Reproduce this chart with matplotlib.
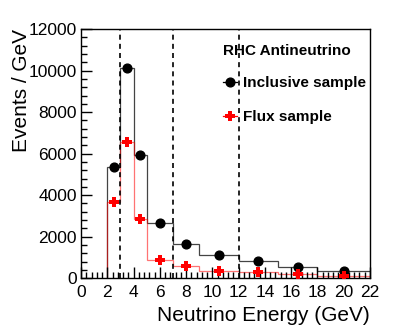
import matplotlib
matplotlib.use("Agg")
import matplotlib.pyplot as plt
from matplotlib.ticker import MultipleLocator
from matplotlib.lines import Line2D
import numpy as np

plt.rcParams['font.family'] = ['Liberation Sans', 'DejaVu Sans']

# Binning and contents (events / GeV)
bin_edges = [2, 3, 4, 5, 7, 9, 12, 15, 18, 22]
inclusive = [5340, 10130, 5930, 2640, 1630, 1110, 835, 545, 340]
flux = [3650, 6570, 2850, 870, 595, 340, 320, 195, 100]
cut_lines = [3, 7, 12]

edges = np.array(bin_edges)
centers = 0.5 * (edges[:-1] + edges[1:])

fig = plt.figure(figsize=(4.07, 3.28), dpi=100)
ax = fig.add_axes([0.199, 0.152, 0.710, 0.759])

# histograms
ax.stairs(inclusive, edges, baseline=0, color='#444444', lw=0.9)
ax.stairs(flux, edges, baseline=0, color='red', lw=0.9, alpha=0.55)

# points
ax.plot(centers, inclusive, 'o', color='black', ms=6.3, zorder=4)
ax.plot(centers, flux, 'P', color='red', ms=7, mew=0, zorder=5)

# dashed energy cuts
for xc in cut_lines:
    ax.axvline(xc, color='black', ls=(0, (3, 2.5)), lw=1.2, zorder=3)

ax.set_xlim(0, 22)
ax.set_ylim(0, 12000)
ax.xaxis.set_major_locator(MultipleLocator(2))
ax.xaxis.set_minor_locator(MultipleLocator(0.4))
ax.yaxis.set_major_locator(MultipleLocator(2000))
ax.yaxis.set_minor_locator(MultipleLocator(400))
ax.tick_params(which='both', direction='in', top=False, right=False, labelsize=12.5, width=1)
ax.tick_params(which='major', length=8)
ax.tick_params(which='minor', length=4)
ax.tick_params(axis='x', which='major', pad=5)
ax.tick_params(axis='y', which='major', pad=3)
for s in ax.spines.values():
    s.set_linewidth(1)

ax.set_xlabel('Neutrino Energy (GeV)', fontsize=15, loc='right', labelpad=4)
ax.set_ylabel('Events / GeV', fontsize=15, loc='top', labelpad=-2)

handles = [
    Line2D([], [], color='black', marker='o', ms=6.3, lw=0.9),
    Line2D([], [], color='red', marker='P', ms=7, mew=0, lw=0.9),
]
leg = ax.legend(handles, ['Inclusive sample', 'Flux sample'],
                title='RHC Antineutrino', loc='upper left',
                bbox_to_anchor=(0.47, 0.965), frameon=False,
                prop={'weight': 'bold', 'size': 11},
                title_fontproperties={'weight': 'bold', 'size': 11},
                alignment='left', handlelength=0.9, handletextpad=0.4,
                labelspacing=1.3, borderaxespad=0)
leg._legend_box.sep = 13

fig.savefig('out.png', dpi=100)
